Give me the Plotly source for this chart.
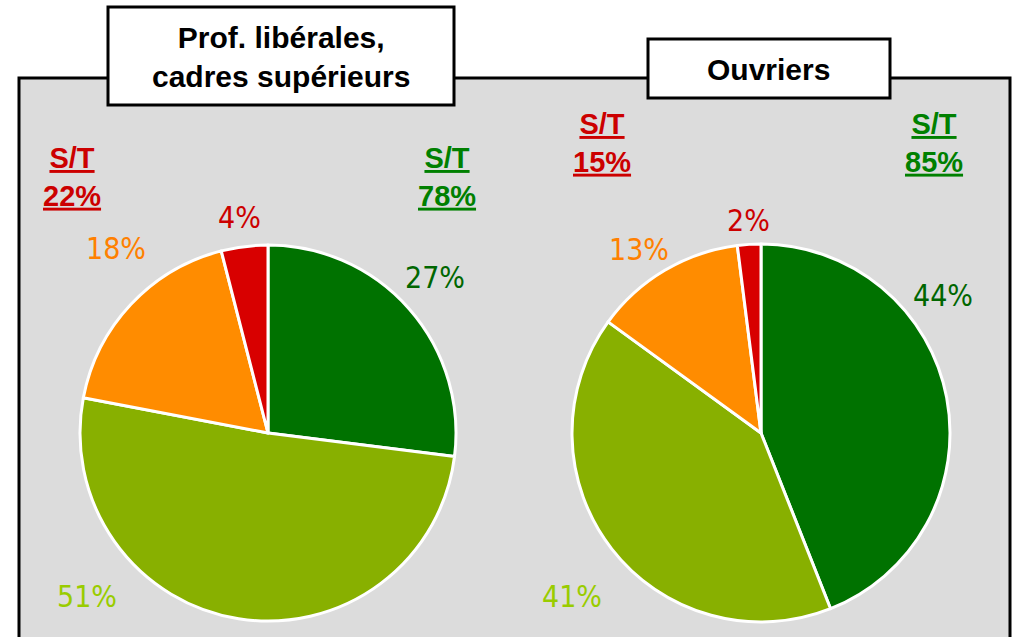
import plotly.graph_objects as go

# ---- data ----
categories = ["Très satisfaits", "Plutôt satisfaits", "Plutôt pas satisfaits", "Pas du tout satisfaits"]
group_titles = ["Prof. libérales,<br>cadres supérieurs", "Ouvriers"]
prof_values = [27, 51, 18, 4]
ouvr_values = [44, 41, 13, 2]
subtotal_label = "S/T"

# ---- styles ----
slice_colors = ["#007200", "#88B000", "#FF8C00", "#D80000"]
label_colors = ["#006600", "#99CC00", "#FF8000", "#CC0000"]
st_pos_color = "#008000"
st_neg_color = "#CC0000"

W, H = 1015, 637
PCT_FONT = "Liberation Sans Narrow, DejaVu Sans Condensed, Arial Narrow, sans-serif"
BOLD_FONT = "Liberation Sans, Arial, sans-serif"

# pie geometry (pixels): centre x, centre y, radius
pies = [
    dict(values=prof_values, cx=268, cy=433, r=188,
         label_xy=[(435, 277), (87, 596), (116, 248), (239, 217)],
         st_neg_xy=(72, 177), st_pos_xy=(447, 177),
         title_box=(108, 7, 454, 105), title_xy=(281, 57)),
    dict(values=ouvr_values, cx=761, cy=433, r=189,
         label_xy=[(943, 295), (572, 596), (639, 249), (748, 220)],
         st_neg_xy=(602, 143), st_pos_xy=(934, 143),
         title_box=(648, 39, 890, 98), title_xy=(768, 69)),
]

fig = go.Figure()

shapes = [dict(type="rect", xref="x", yref="y", x0=19, x1=1010, y0=78, y1=720,
               fillcolor="#DCDCDC", line=dict(color="black", width=3), layer="below")]
annotations = []

for p, title in zip(pies, group_titles):
    vals = p["values"]
    fig.add_trace(go.Pie(
        values=vals, labels=categories, sort=False, direction="clockwise", rotation=0,
        marker=dict(colors=slice_colors, line=dict(color="white", width=3)),
        textinfo="none", hovertemplate="%{label}: %{value}%<extra></extra>",
        domain=dict(x=[(p["cx"] - p["r"]) / W, (p["cx"] + p["r"]) / W],
                    y=[1 - (p["cy"] + p["r"]) / H, 1 - (p["cy"] - p["r"]) / H]),
        showlegend=False,
    ))
    for v, col, (lx, ly) in zip(vals, label_colors, p["label_xy"]):
        annotations.append(dict(x=lx, y=ly, xref="x", yref="y", text=f"{v}%", showarrow=False,
                                font=dict(family=PCT_FONT, size=30, color=col)))
    pos_total = vals[0] + vals[1]
    neg_total = vals[2] + vals[3]
    annotations.append(dict(x=p["st_neg_xy"][0], y=p["st_neg_xy"][1], xref="x", yref="y",
                            text=f"<b><u>{subtotal_label}</u></b><br><b><u>{neg_total}%</u></b>",
                            showarrow=False,
                            font=dict(family=BOLD_FONT, size=29, color=st_neg_color)))
    annotations.append(dict(x=p["st_pos_xy"][0], y=p["st_pos_xy"][1], xref="x", yref="y",
                            text=f"<b><u>{subtotal_label}</u></b><br><b><u>{pos_total}%</u></b>",
                            showarrow=False,
                            font=dict(family=BOLD_FONT, size=29, color=st_pos_color)))
    x0, y0, x1, y1 = p["title_box"]
    shapes.append(dict(type="rect", xref="x", yref="y", x0=x0, x1=x1, y0=y0, y1=y1,
                       fillcolor="white", line=dict(color="black", width=3), layer="below"))
    annotations.append(dict(x=p["title_xy"][0], y=p["title_xy"][1], xref="x", yref="y",
                            text=f"<b>{title}</b>", showarrow=False,
                            font=dict(family=BOLD_FONT, size=30, color="black")))

fig.update_layout(
    width=W, height=H, margin=dict(l=0, r=0, t=0, b=0),
    paper_bgcolor="white", plot_bgcolor="rgba(0,0,0,0)",
    xaxis=dict(range=[0, W], visible=False, fixedrange=True),
    yaxis=dict(range=[H, 0], visible=False, fixedrange=True),
    shapes=shapes, annotations=annotations, showlegend=False,
)

fig.write_html("out.html", config={"displayModeBar": False},
               post_script="document.body.style.margin='0';document.body.style.overflow='hidden';")
